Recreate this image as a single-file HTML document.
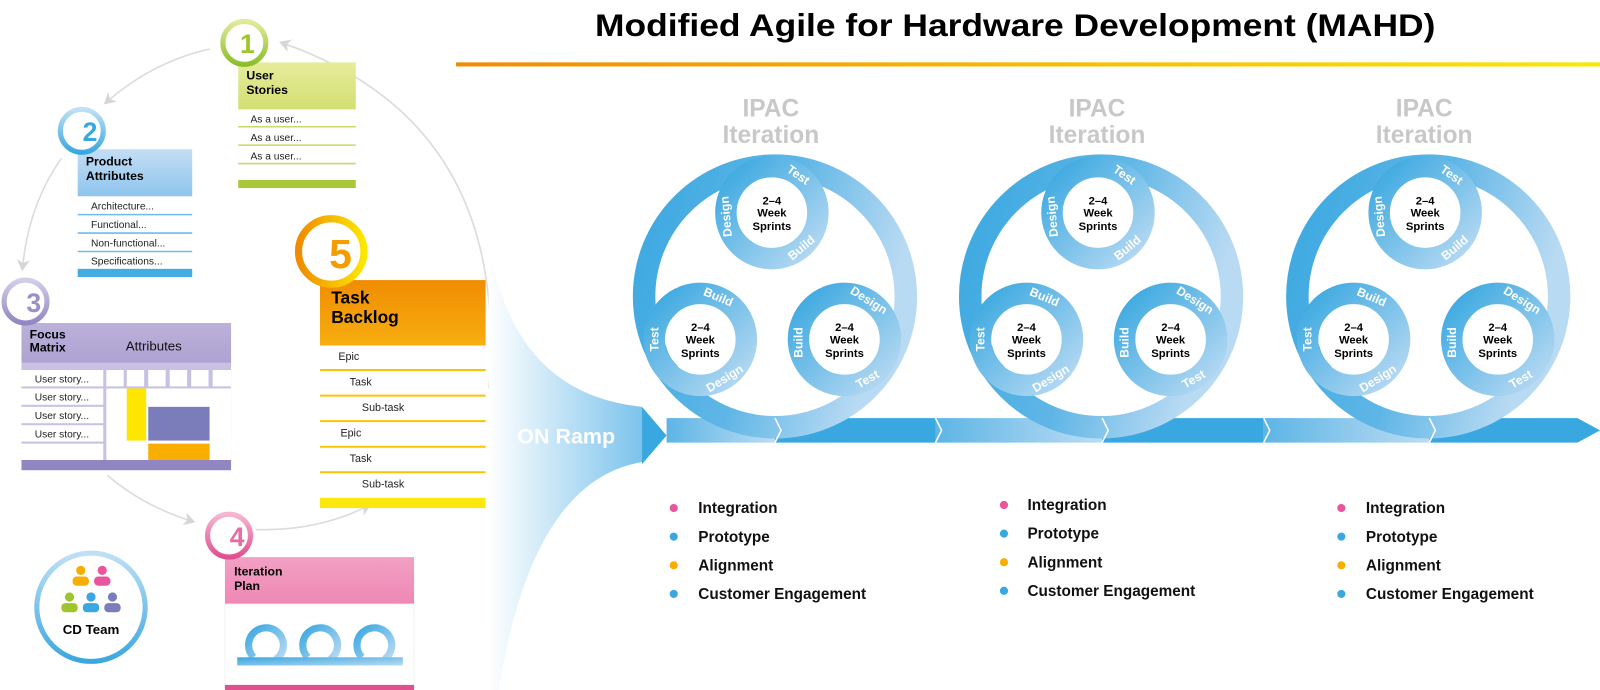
<!DOCTYPE html>
<html><head><meta charset="utf-8"><style>
html,body{margin:0;padding:0;background:#fff;}
svg{display:block;font-family:"Liberation Sans",sans-serif;}
</style></head><body>
<svg width="1600" height="690" viewBox="0 0 1565 675" preserveAspectRatio="none" xmlns="http://www.w3.org/2000/svg">
<defs>
<linearGradient id="tl" x1="0" x2="1"><stop offset="0" stop-color="#f08c00"/><stop offset="1" stop-color="#fde700"/></linearGradient>
<linearGradient id="bg" x1="0" y1="0" x2="1" y2="0.3"><stop offset="0" stop-color="#3aa8e0"/><stop offset="0.55" stop-color="#5fb6e6"/><stop offset="1" stop-color="#b9daf3"/></linearGradient>
<linearGradient id="sg" x1="0" y1="0" x2="1" y2="1"><stop offset="0" stop-color="#3aa8e0"/><stop offset="1" stop-color="#b9daf3"/></linearGradient>
<linearGradient id="ramp" x1="0" x2="1"><stop offset="0" stop-color="#ffffff"/><stop offset="1" stop-color="#7cc3ec"/></linearGradient>
<linearGradient id="seg" x1="0" x2="1"><stop offset="0" stop-color="#5db5e6"/><stop offset="1" stop-color="#bcdcf3"/></linearGradient>
<linearGradient id="gh" x1="0" y1="0" x2="0" y2="1"><stop offset="0" stop-color="#e6ec9c"/><stop offset="1" stop-color="#d3df72"/></linearGradient>
<linearGradient id="bh" x1="0" y1="0" x2="0" y2="1"><stop offset="0" stop-color="#c4def5"/><stop offset="1" stop-color="#8ec4ec"/></linearGradient>
<linearGradient id="ph" x1="0" y1="0" x2="0" y2="1"><stop offset="0" stop-color="#bbb1da"/><stop offset="1" stop-color="#ada2d2"/></linearGradient>
<linearGradient id="oh" x1="0" y1="0" x2="0" y2="1"><stop offset="0" stop-color="#f08c00"/><stop offset="1" stop-color="#f7ae10"/></linearGradient>
<linearGradient id="kh" x1="0" y1="0" x2="0" y2="1"><stop offset="0" stop-color="#f2a0c4"/><stop offset="1" stop-color="#ee88b5"/></linearGradient>
<linearGradient id="c1" x1="0" y1="0" x2="0" y2="1"><stop offset="0" stop-color="#e2ea9a"/><stop offset="1" stop-color="#8cbe2a"/></linearGradient>
<linearGradient id="c2" x1="0" y1="0" x2="0" y2="1"><stop offset="0" stop-color="#bfe0f6"/><stop offset="1" stop-color="#3aa8e0"/></linearGradient>
<linearGradient id="c3" x1="0" y1="0" x2="0" y2="1"><stop offset="0" stop-color="#d4cdea"/><stop offset="1" stop-color="#9286c2"/></linearGradient>
<linearGradient id="c5" x1="0" y1="0" x2="1" y2="0"><stop offset="0" stop-color="#f08c00"/><stop offset="1" stop-color="#fde700"/></linearGradient>
<linearGradient id="c4" x1="0" y1="0" x2="0" y2="1"><stop offset="0" stop-color="#f6b6d2"/><stop offset="1" stop-color="#e0508e"/></linearGradient>
<marker id="ah" markerWidth="8" markerHeight="8" refX="5" refY="4" orient="auto"><path d="M0,0 L7,4 L0,8 L2,4z" fill="#d6d6d6"/></marker>
</defs>

<!-- Title -->
<text x="993" y="35" font-size="31" font-weight="bold" text-anchor="middle" textLength="822" lengthAdjust="spacingAndGlyphs" fill="#000">Modified Agile for Hardware Development (MAHD)</text>
<rect x="446" y="61" width="1119" height="4" fill="url(#tl)"/>

<!-- left arrows -->
<g fill="none" stroke="#dcdcdc" stroke-width="1.6">
<path d="M205,48 Q150,60 104,100" marker-end="url(#ah)"/>
<path d="M60,155 Q28,200 22,262" marker-end="url(#ah)"/>
<path d="M105,465 Q140,495 188,510" marker-end="url(#ah)"/>
<path d="M250,518 Q310,520 360,495" marker-end="url(#ah)"/>
<path d="M478,380 Q500,120 276,42" marker-end="url(#ah)"/>
</g>

<!-- 1 User stories -->
<rect x="233" y="61" width="115" height="46" fill="url(#gh)"/>
<text x="241" y="78" font-size="12" font-weight="bold">User</text>
<text x="241" y="92" font-size="12" font-weight="bold">Stories</text>
<g stroke="#c7d96a" stroke-width="1.5"><line x1="233" y1="124" x2="348" y2="124"/><line x1="233" y1="142" x2="348" y2="142"/><line x1="233" y1="160" x2="348" y2="160"/></g>
<g font-size="10" fill="#222"><text x="245" y="120">As a user...</text><text x="245" y="138">As a user...</text><text x="245" y="156">As a user...</text></g>
<rect x="233" y="176" width="115" height="8" fill="#a9c83c"/>
<circle cx="239" cy="42" r="21" fill="#fff" stroke="url(#c1)" stroke-width="5"/>
<text x="242" y="52" font-size="26" font-weight="bold" fill="#9cc62c" text-anchor="middle">1</text>

<!-- 2 Product attributes -->
<rect x="76" y="146" width="112" height="46" fill="url(#bh)"/>
<text x="84" y="162" font-size="12" font-weight="bold">Product</text>
<text x="84" y="176" font-size="12" font-weight="bold">Attributes</text>
<g stroke="#6fbce8" stroke-width="1.5"><line x1="76" y1="210" x2="188" y2="210"/><line x1="76" y1="228" x2="188" y2="228"/><line x1="76" y1="246" x2="188" y2="246"/></g>
<g font-size="10" fill="#222"><text x="89" y="205">Architecture...</text><text x="89" y="223">Functional...</text><text x="89" y="241">Non-functional...</text><text x="89" y="259">Specifications...</text></g>
<rect x="76" y="263" width="112" height="8" fill="#42ade2"/>
<circle cx="80" cy="128" r="21" fill="#fff" stroke="url(#c2)" stroke-width="5"/>
<text x="88" y="138" font-size="26" font-weight="bold" fill="#3aa8e0" text-anchor="middle">2</text>

<!-- 3 Focus matrix -->
<rect x="21" y="316" width="205" height="39" fill="url(#ph)"/>
<text x="29" y="331" font-size="12" font-weight="bold">Focus</text>
<text x="29" y="344" font-size="12" font-weight="bold">Matrix</text>
<text x="123" y="343" font-size="13" fill="#111">Attributes</text>
<rect x="21" y="355" width="205" height="97" fill="#c9c1e2"/>
<g fill="#fff">
<rect x="21" y="362" width="80" height="16"/><rect x="21" y="380" width="80" height="16"/><rect x="21" y="398" width="80" height="16"/><rect x="21" y="416" width="80" height="16"/><rect x="21" y="434" width="80" height="16"/>
<rect x="104" y="362" width="17" height="16"/><rect x="124" y="362" width="17" height="16"/><rect x="145" y="362" width="17" height="16"/><rect x="166" y="362" width="17" height="16"/><rect x="187" y="362" width="17" height="16"/><rect x="208" y="362" width="18" height="16"/>
<rect x="104" y="380" width="122" height="70"/>
</g>
<g font-size="10" fill="#222"><text x="34" y="374">User story...</text><text x="34" y="392">User story...</text><text x="34" y="410">User story...</text><text x="34" y="428">User story...</text></g>
<rect x="124" y="380" width="19" height="51" fill="#ffe600"/>
<rect x="145" y="398" width="60" height="33" fill="#7b7dbb"/>
<rect x="145" y="434" width="60" height="16" fill="#f7ae00"/>
<rect x="21" y="450" width="205" height="10" fill="#9286c2"/>
<circle cx="25" cy="295" r="21" fill="#fff" stroke="url(#c3)" stroke-width="5"/>
<text x="33" y="305" font-size="26" font-weight="bold" fill="#9a8fc8" text-anchor="middle">3</text>

<!-- 5 Task backlog -->
<rect x="313" y="274" width="162" height="64" fill="url(#oh)"/>
<text x="324" y="297" font-size="17" font-weight="bold">Task</text>
<text x="324" y="316" font-size="17" font-weight="bold">Backlog</text>
<g stroke="#fbc400" stroke-width="2"><line x1="313" y1="362" x2="475" y2="362"/><line x1="313" y1="387" x2="475" y2="387"/><line x1="313" y1="412" x2="475" y2="412"/><line x1="313" y1="437" x2="475" y2="437"/><line x1="313" y1="462" x2="475" y2="462"/></g>
<g font-size="10.5" fill="#222"><text x="331" y="352">Epic</text><text x="342" y="377">Task</text><text x="354" y="402">Sub-task</text><text x="333" y="427">Epic</text><text x="342" y="452">Task</text><text x="354" y="477">Sub-task</text></g>
<rect x="313" y="487" width="162" height="10" fill="#fde80e"/>
<circle cx="324" cy="246" r="32" fill="#fff" stroke="url(#c5)" stroke-width="7"/>
<text x="333" y="262" font-size="40" font-weight="bold" fill="#f59c00" text-anchor="middle">5</text>

<!-- 4 Iteration plan -->
<rect x="220" y="545" width="185" height="46" fill="url(#kh)"/>
<text x="229" y="563" font-size="12" font-weight="bold">Iteration</text>
<text x="229" y="577" font-size="12" font-weight="bold">Plan</text>
<rect x="220" y="591" width="185" height="80" fill="#fff" stroke="#f2f2f2"/>
<rect x="220" y="670" width="185" height="8" fill="#e0508e"/>
<g fill="none" stroke-width="7">
<path d="M248,643 A17,17 0 1 1 270,645" stroke="url(#sg)"/>
<path d="M301,643 A17,17 0 1 1 323,645" stroke="url(#sg)"/>
<path d="M354,643 A17,17 0 1 1 376,645" stroke="url(#sg)"/>
</g>
<rect x="232" y="643" width="162" height="8" fill="url(#sg)"/>
<circle cx="224" cy="524" r="21" fill="#fff" stroke="url(#c4)" stroke-width="5"/>
<text x="232" y="534" font-size="26" font-weight="bold" fill="#ea6aa2" text-anchor="middle">4</text>

<!-- CD Team -->
<circle cx="89" cy="594" r="53" fill="#fff" stroke="url(#c2)" stroke-width="5"/>
<g>
<circle cx="79" cy="558" r="4.5" fill="#f7ae00"/><rect x="71" y="564" width="16" height="9" rx="4" fill="#f7ae00"/>
<circle cx="100" cy="558" r="4.5" fill="#e8559a"/><rect x="92" y="564" width="16" height="9" rx="4" fill="#e8559a"/>
<circle cx="68" cy="584" r="4.5" fill="#9cc62c"/><rect x="60" y="590" width="16" height="9" rx="4" fill="#9cc62c"/>
<circle cx="89" cy="584" r="4.5" fill="#3aa8e0"/><rect x="81" y="590" width="16" height="9" rx="4" fill="#3aa8e0"/>
<circle cx="110" cy="584" r="4.5" fill="#7b7dbb"/><rect x="102" y="590" width="16" height="9" rx="4" fill="#7b7dbb"/>
</g>
<text x="89" y="620" font-size="13" font-weight="bold" text-anchor="middle">CD Team</text>

<!-- ON ramp -->
<path d="M478,235 Q500,385 628,398 L628,452 Q520,470 488,675 L478,675 Z" fill="url(#ramp)"/>
<text x="506" y="434" font-size="21" font-weight="bold" fill="#fff">ON Ramp</text>
<polygon points="628,398 652,426 628,454" fill="#3aa8e0"/>

<!-- bar -->
<rect x="652" y="409" width="106" height="24" fill="url(#seg)"/>
<rect x="758" y="409" width="157" height="24" fill="#3aa8e0"/>
<rect x="915" y="409" width="163" height="24" fill="url(#seg)"/>
<rect x="1078" y="409" width="158" height="24" fill="#3aa8e0"/>
<rect x="1236" y="409" width="162" height="24" fill="url(#seg)"/>
<rect x="1398" y="409" width="145" height="24" fill="#3aa8e0"/>
<polygon points="1543,409 1565,421 1543,433" fill="#3aa8e0"/>

<!-- Iterations -->
<g id="it1" transform="translate(758,290)">
<text x="-4" y="-176" font-size="24" font-weight="bold" fill="#c8c8c8" text-anchor="middle">IPAC</text>
<text x="-4" y="-150" font-size="24" font-weight="bold" fill="#c8c8c8" text-anchor="middle">Iteration</text>
<circle r="128" fill="none" stroke="url(#bg)" stroke-width="22"/>
<g transform="translate(-3,-82)"><circle r="45" fill="none" stroke="url(#sg)" stroke-width="21"/><circle r="34" fill="#fff"/>
<g font-size="11" font-weight="bold" text-anchor="middle"><text y="-8">2–4</text><text y="4">Week</text><text y="17">Sprints</text></g>
<g font-size="12" font-weight="bold" fill="#fff" text-anchor="middle" dominant-baseline="central"><text transform="translate(25.8,-36.9) rotate(35)">Test</text><text transform="translate(-44.8,3.9) rotate(-95)">Design</text><text transform="translate(28.9,34.5) rotate(-40)">Build</text></g></g>
<g transform="translate(-73,42)"><circle r="45" fill="none" stroke="url(#sg)" stroke-width="21"/><circle r="34" fill="#fff"/>
<g font-size="11" font-weight="bold" text-anchor="middle"><text y="-8">2–4</text><text y="4">Week</text><text y="17">Sprints</text></g>
<g font-size="12" font-weight="bold" fill="#fff" text-anchor="middle" dominant-baseline="central"><text transform="translate(17.6,-41.4) rotate(23)">Build</text><text transform="translate(-45,0) rotate(-90)">Test</text><text transform="translate(23.8,38.2) rotate(-32)">Design</text></g></g>
<g transform="translate(68,42)"><circle r="45" fill="none" stroke="url(#sg)" stroke-width="21"/><circle r="34" fill="#fff"/>
<g font-size="11" font-weight="bold" text-anchor="middle"><text y="-8">2–4</text><text y="4">Week</text><text y="17">Sprints</text></g>
<g font-size="12" font-weight="bold" fill="#fff" text-anchor="middle" dominant-baseline="central"><text transform="translate(23.8,-38.2) rotate(32)">Design</text><text transform="translate(-44.9,3.1) rotate(-90)">Build</text><text transform="translate(22.5,39) rotate(-30)">Test</text></g></g>
</g>

<g transform="translate(1077,290)">
<text x="-4" y="-176" font-size="24" font-weight="bold" fill="#c8c8c8" text-anchor="middle">IPAC</text>
<text x="-4" y="-150" font-size="24" font-weight="bold" fill="#c8c8c8" text-anchor="middle">Iteration</text>
<circle r="128" fill="none" stroke="url(#bg)" stroke-width="22"/>
<g transform="translate(-3,-82)"><circle r="45" fill="none" stroke="url(#sg)" stroke-width="21"/><circle r="34" fill="#fff"/>
<g font-size="11" font-weight="bold" text-anchor="middle"><text y="-8">2–4</text><text y="4">Week</text><text y="17">Sprints</text></g>
<g font-size="12" font-weight="bold" fill="#fff" text-anchor="middle" dominant-baseline="central"><text transform="translate(25.8,-36.9) rotate(35)">Test</text><text transform="translate(-44.8,3.9) rotate(-95)">Design</text><text transform="translate(28.9,34.5) rotate(-40)">Build</text></g></g>
<g transform="translate(-73,42)"><circle r="45" fill="none" stroke="url(#sg)" stroke-width="21"/><circle r="34" fill="#fff"/>
<g font-size="11" font-weight="bold" text-anchor="middle"><text y="-8">2–4</text><text y="4">Week</text><text y="17">Sprints</text></g>
<g font-size="12" font-weight="bold" fill="#fff" text-anchor="middle" dominant-baseline="central"><text transform="translate(17.6,-41.4) rotate(23)">Build</text><text transform="translate(-45,0) rotate(-90)">Test</text><text transform="translate(23.8,38.2) rotate(-32)">Design</text></g></g>
<g transform="translate(68,42)"><circle r="45" fill="none" stroke="url(#sg)" stroke-width="21"/><circle r="34" fill="#fff"/>
<g font-size="11" font-weight="bold" text-anchor="middle"><text y="-8">2–4</text><text y="4">Week</text><text y="17">Sprints</text></g>
<g font-size="12" font-weight="bold" fill="#fff" text-anchor="middle" dominant-baseline="central"><text transform="translate(23.8,-38.2) rotate(32)">Design</text><text transform="translate(-44.9,3.1) rotate(-90)">Build</text><text transform="translate(22.5,39) rotate(-30)">Test</text></g></g>
</g>

<g transform="translate(1397,290)">
<text x="-4" y="-176" font-size="24" font-weight="bold" fill="#c8c8c8" text-anchor="middle">IPAC</text>
<text x="-4" y="-150" font-size="24" font-weight="bold" fill="#c8c8c8" text-anchor="middle">Iteration</text>
<circle r="128" fill="none" stroke="url(#bg)" stroke-width="22"/>
<g transform="translate(-3,-82)"><circle r="45" fill="none" stroke="url(#sg)" stroke-width="21"/><circle r="34" fill="#fff"/>
<g font-size="11" font-weight="bold" text-anchor="middle"><text y="-8">2–4</text><text y="4">Week</text><text y="17">Sprints</text></g>
<g font-size="12" font-weight="bold" fill="#fff" text-anchor="middle" dominant-baseline="central"><text transform="translate(25.8,-36.9) rotate(35)">Test</text><text transform="translate(-44.8,3.9) rotate(-95)">Design</text><text transform="translate(28.9,34.5) rotate(-40)">Build</text></g></g>
<g transform="translate(-73,42)"><circle r="45" fill="none" stroke="url(#sg)" stroke-width="21"/><circle r="34" fill="#fff"/>
<g font-size="11" font-weight="bold" text-anchor="middle"><text y="-8">2–4</text><text y="4">Week</text><text y="17">Sprints</text></g>
<g font-size="12" font-weight="bold" fill="#fff" text-anchor="middle" dominant-baseline="central"><text transform="translate(17.6,-41.4) rotate(23)">Build</text><text transform="translate(-45,0) rotate(-90)">Test</text><text transform="translate(23.8,38.2) rotate(-32)">Design</text></g></g>
<g transform="translate(68,42)"><circle r="45" fill="none" stroke="url(#sg)" stroke-width="21"/><circle r="34" fill="#fff"/>
<g font-size="11" font-weight="bold" text-anchor="middle"><text y="-8">2–4</text><text y="4">Week</text><text y="17">Sprints</text></g>
<g font-size="12" font-weight="bold" fill="#fff" text-anchor="middle" dominant-baseline="central"><text transform="translate(23.8,-38.2) rotate(32)">Design</text><text transform="translate(-44.9,3.1) rotate(-90)">Build</text><text transform="translate(22.5,39) rotate(-30)">Test</text></g></g>
</g>

<!-- chevrons on bar -->
<g fill="none" stroke="#fff" stroke-width="1.5">
<polyline points="758,409 764,421 758,433"/><polyline points="915,409 921,421 915,433"/><polyline points="1078,409 1084,421 1078,433"/><polyline points="1236,409 1242,421 1236,433"/><polyline points="1398,409 1404,421 1398,433"/>
</g>

<!-- bullets -->
<g font-size="15" font-weight="bold" fill="#111">
<circle cx="659" cy="497" r="4" fill="#e8559a"/><text x="683" y="502">Integration</text>
<circle cx="659" cy="525" r="4" fill="#3aa8e0"/><text x="683" y="530">Prototype</text>
<circle cx="659" cy="553" r="4" fill="#f7ae00"/><text x="683" y="558">Alignment</text>
<circle cx="659" cy="581" r="4" fill="#3aa8e0"/><text x="683" y="586">Customer Engagement</text>
<circle cx="982" cy="494" r="4" fill="#e8559a"/><text x="1005" y="499">Integration</text>
<circle cx="982" cy="522" r="4" fill="#3aa8e0"/><text x="1005" y="527">Prototype</text>
<circle cx="982" cy="550" r="4" fill="#f7ae00"/><text x="1005" y="555">Alignment</text>
<circle cx="982" cy="578" r="4" fill="#3aa8e0"/><text x="1005" y="583">Customer Engagement</text>
<circle cx="1312" cy="497" r="4" fill="#e8559a"/><text x="1336" y="502">Integration</text>
<circle cx="1312" cy="525" r="4" fill="#3aa8e0"/><text x="1336" y="530">Prototype</text>
<circle cx="1312" cy="553" r="4" fill="#f7ae00"/><text x="1336" y="558">Alignment</text>
<circle cx="1312" cy="581" r="4" fill="#3aa8e0"/><text x="1336" y="586">Customer Engagement</text>
</g>
</svg>
</body></html>
